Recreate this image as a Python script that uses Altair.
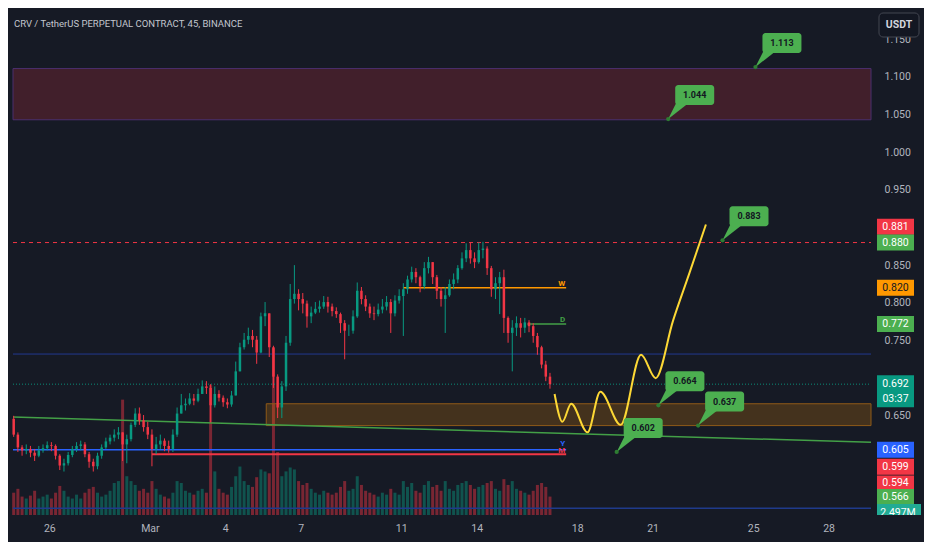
import altair as alt
import pandas as pd

# ----------------------------- data -----------------------------
candle_start = "2024-02-24 12:00"
candle_freq = "4h"
first_open = 0.646

close = [
    0.625, 0.608, 0.604, 0.606, 0.601, 0.597, 0.604, 0.607, 0.611, 0.610,
    0.597, 0.584, 0.587, 0.598, 0.606, 0.610, 0.612, 0.599, 0.589, 0.583,
    0.597, 0.608, 0.616, 0.621, 0.625, 0.628, 0.612, 0.619, 0.638, 0.653,
    0.644, 0.635, 0.625, 0.606, 0.612, 0.617, 0.610, 0.606, 0.625, 0.653,
    0.664, 0.666, 0.673, 0.670, 0.679, 0.689, 0.687, 0.664, 0.679, 0.674,
    0.668, 0.665, 0.677, 0.709, 0.741, 0.751, 0.756, 0.751, 0.734, 0.782,
    0.786, 0.741, 0.702, 0.661, 0.689, 0.747, 0.805, 0.812, 0.805, 0.799,
    0.782, 0.787, 0.792, 0.795, 0.801, 0.795, 0.789, 0.785, 0.773, 0.763,
    0.763, 0.782, 0.816, 0.805, 0.795, 0.786, 0.785, 0.791, 0.795, 0.801,
    0.786, 0.803, 0.809, 0.818, 0.831, 0.841, 0.834, 0.822, 0.846, 0.854,
    0.834, 0.816, 0.805, 0.810, 0.825, 0.831, 0.846, 0.859, 0.870, 0.859,
    0.854, 0.870, 0.872, 0.846, 0.818, 0.826, 0.834, 0.780, 0.760, 0.767,
    0.773, 0.767, 0.774, 0.769, 0.756, 0.741, 0.718, 0.702, 0.692,
]
high = [
    0.650, 0.628, 0.611, 0.612, 0.610, 0.606, 0.610, 0.612, 0.616, 0.615,
    0.612, 0.599, 0.593, 0.602, 0.610, 0.615, 0.617, 0.615, 0.602, 0.593,
    0.601, 0.612, 0.621, 0.625, 0.632, 0.635, 0.628, 0.625, 0.641, 0.660,
    0.661, 0.651, 0.642, 0.632, 0.622, 0.625, 0.620, 0.617, 0.632, 0.661,
    0.679, 0.673, 0.680, 0.679, 0.686, 0.697, 0.696, 0.692, 0.689, 0.684,
    0.677, 0.673, 0.683, 0.722, 0.747, 0.760, 0.767, 0.764, 0.756, 0.787,
    0.801, 0.780, 0.743, 0.705, 0.696, 0.756, 0.825, 0.850, 0.818, 0.813,
    0.803, 0.795, 0.801, 0.803, 0.809, 0.808, 0.799, 0.794, 0.787, 0.777,
    0.771, 0.790, 0.827, 0.821, 0.810, 0.799, 0.795, 0.799, 0.805, 0.809,
    0.805, 0.810, 0.818, 0.826, 0.836, 0.848, 0.846, 0.836, 0.854, 0.861,
    0.854, 0.837, 0.821, 0.821, 0.831, 0.839, 0.850, 0.867, 0.879, 0.880,
    0.867, 0.880, 0.881, 0.875, 0.849, 0.834, 0.841, 0.844, 0.782, 0.777,
    0.782, 0.780, 0.780, 0.777, 0.773, 0.760, 0.743, 0.723, 0.707,
]
low = [
    0.622, 0.602, 0.597, 0.599, 0.595, 0.590, 0.595, 0.601, 0.604, 0.603,
    0.592, 0.578, 0.576, 0.584, 0.595, 0.602, 0.604, 0.595, 0.581, 0.576,
    0.579, 0.593, 0.606, 0.612, 0.616, 0.619, 0.590, 0.587, 0.616, 0.635,
    0.638, 0.629, 0.619, 0.583, 0.599, 0.606, 0.603, 0.601, 0.602, 0.622,
    0.656, 0.657, 0.664, 0.664, 0.668, 0.680, 0.679, 0.641, 0.661, 0.669,
    0.662, 0.660, 0.662, 0.679, 0.720, 0.738, 0.745, 0.741, 0.719, 0.733,
    0.769, 0.728, 0.687, 0.647, 0.647, 0.683, 0.743, 0.799, 0.790, 0.786,
    0.767, 0.773, 0.785, 0.787, 0.792, 0.787, 0.782, 0.780, 0.760, 0.725,
    0.756, 0.759, 0.780, 0.798, 0.789, 0.780, 0.777, 0.782, 0.786, 0.790,
    0.760, 0.782, 0.799, 0.756, 0.812, 0.827, 0.826, 0.814, 0.818, 0.839,
    0.825, 0.805, 0.795, 0.760, 0.808, 0.818, 0.826, 0.844, 0.854, 0.852,
    0.846, 0.852, 0.859, 0.837, 0.808, 0.805, 0.785, 0.760, 0.747, 0.709,
    0.756, 0.754, 0.760, 0.761, 0.747, 0.731, 0.713, 0.696, 0.686,
]
volume_m = [
    4.6, 5.4, 3.8, 3.4, 4.0, 5.0, 3.4, 3.8, 4.2, 3.4,
    4.6, 6.0, 5.0, 3.8, 3.4, 4.2, 3.4, 4.6, 5.4, 5.8,
    4.6, 3.8, 4.2, 5.0, 6.6, 7.0, 23.8, 8.0, 7.0, 6.2,
    5.0, 5.4, 4.6, 7.0, 5.4, 4.2, 3.8, 3.4, 4.6, 7.0,
    6.6, 5.0, 4.6, 4.2, 5.0, 5.4, 4.6, 26.8, 9.0, 5.4,
    4.6, 4.2, 5.8, 8.0, 10.0, 7.0, 6.2, 5.8, 7.8, 9.4,
    9.0, 8.6, 34.4, 13.0, 8.0, 9.0, 9.8, 9.4, 7.0, 6.2,
    6.6, 5.4, 4.6, 4.2, 5.0, 4.6, 4.2, 4.6, 5.8, 7.0,
    5.0, 5.4, 8.0, 6.2, 5.0, 4.6, 4.2, 3.8, 4.6, 4.2,
    5.4, 4.6, 4.2, 7.0, 5.8, 6.6, 5.0, 4.6, 6.2, 7.0,
    5.8, 6.2, 5.0, 7.0, 5.4, 5.0, 6.2, 6.6, 7.0, 6.2,
    5.4, 5.8, 6.2, 6.6, 7.0, 5.4, 5.0, 7.4, 6.2, 7.0,
    5.4, 5.0, 4.6, 4.2, 5.0, 6.2, 6.6, 5.8, 3.8,
]

# projected path (days after 1 Mar, price)
proj_day = [16.10, 16.41, 16.76, 17.41, 17.92, 18.73, 19.54, 20.12, 20.81, 21.47, 22.12]
proj_price = [0.679, 0.642, 0.666, 0.628, 0.682, 0.638, 0.731, 0.700, 0.776, 0.840, 0.904]

# target callouts
callout_day = [24.09, 20.62, 22.78, 20.23, 21.81, 18.57]
callout_price = [1.113, 1.044, 0.883, 0.664, 0.637, 0.602]

# zones
supply_zone = [1.043, 1.111]
demand_zone = [0.637, 0.666]
demand_start_day = 4.63

# trend line
trend_day = [-5.444, 28.687]
trend_price = [0.6483, 0.6148]

# level lines
level_names = ["W", "D", "Y", "M"]
level_price = [0.820, 0.772, 0.605, 0.599]
level_start = [10.08, 15.02, -5.444, 0.08]
level_end = [16.56, 16.56, 16.56, 16.56]
high_line_price = 0.880
blue_line_price = 0.732
last_price = 0.692
bottom_line_price = 0.5273

# axis
x_tick_days = [-4, 0, 3, 6, 10, 13, 17, 20, 24, 27]
x_tick_labels = ["26", "Mar", "4", "7", "11", "14", "18", "21", "25", "28"]
y_ticks = [0.65, 0.75, 0.80, 0.85, 0.95, 1.00, 1.05, 1.10, 1.15]

# price-scale labels
lbl_values = [0.881, 0.880, 0.820, 0.772, 0.605, 0.599, 0.594, 0.566]
lbl_text = ["0.881", "0.880", "0.820", "0.772", "0.605", "0.599", "0.594", "0.566"]
countdown = "03:37"
volume_label = "2.497M"
title_text = "CRV / TetherUS PERPETUAL CONTRACT, 45, BINANCE"
currency = "USDT"

# ----------------------------- style -----------------------------
W, H = 868, 507
RIGHT, BOTTOM = 48, 27
XD = [-5.444, 28.687]
YD = [0.5183, 1.1914]
BG = "#161a25"
UP = "#089981"
DOWN = "#f23645"
TXT = "#b2b5be"
FONT = "Roboto"
CALL = "#4caf50"
lbl_fill = ["#f23645", "#4caf50", "#ff9800", "#4caf50", "#2962ff", "#f23645", "#f23645", "#4caf50"]
lbl_tcolor = ["#ffffff", "#ffffff", "#131722", "#ffffff", "#ffffff", "#ffffff", "#ffffff", "#ffffff"]
lbl_shift_px = [-15, 0, 0, 0, 0, 12.5, 25.5, 18]
level_colors = ["#ff9800", "#43a047", "#2962ff", "#f23645"]
level_dy = [0, 0, -2, 1]

# ----------------------------- build -----------------------------
t = pd.date_range(candle_start, periods=len(close), freq=candle_freq)
half = pd.Timedelta(candle_freq) / pd.Timedelta(days=1) / 2
day = (t - pd.Timestamp("2024-03-01")) / pd.Timedelta(days=1) + half
opens = [first_open] + close[:-1]
candles = pd.DataFrame({"day": day, "open": opens, "close": close,
                        "high": high, "low": low, "vol": volume_m})
candles["high"] = candles[["high", "open", "close"]].max(axis=1)
candles["low"] = candles[["low", "open", "close"]].min(axis=1)
candles["dir"] = ["up" if c >= o else "down" for o, c in zip(candles["open"], candles["close"])]

xs = alt.Scale(domain=XD, nice=False, zero=False)
ys = alt.Scale(domain=YD, nice=False, zero=False)
label_expr = " : ".join(f"datum.value == {d} ? '{l}'" for d, l in zip(x_tick_days, x_tick_labels)) + " : ''"
x_axis = alt.Axis(values=x_tick_days, labelExpr=label_expr, orient="bottom", ticks=False,
                  domain=False, grid=False, labelColor=TXT, labelFontSize=10.5, labelFont=FONT,
                  labelPadding=8, title=None, labelFlush=False, labelOverlap=False)
y_axis = alt.Axis(values=y_ticks, format=".3f", orient="right", ticks=False, domain=False,
                  grid=False, labelColor=TXT, labelFontSize=10.5, labelFont=FONT, labelPadding=8,
                  title=None, labelFlush=False, labelOverlap=False)


def X(f):
    return alt.X(f, type="quantitative", scale=xs, axis=x_axis)


def Y(f):
    return alt.Y(f, type="quantitative", scale=ys, axis=y_axis)


dir_color = alt.Color("dir:N", scale=alt.Scale(domain=["up", "down"], range=[UP, DOWN]), legend=None)

layers = []

# zones
zs = pd.DataFrame({"x0": [XD[0]], "x1": [XD[1]], "p0": [supply_zone[0]], "p1": [supply_zone[1]]})
layers.append(alt.Chart(zs).mark_rect(fill=DOWN, fillOpacity=0.2, stroke="#4b2f6e", strokeWidth=1)
              .encode(x=X("x0"), x2="x1", y=Y("p0"), y2="p1"))
zd = pd.DataFrame({"x0": [demand_start_day], "x1": [XD[1]], "p0": [demand_zone[0]], "p1": [demand_zone[1]]})
layers.append(alt.Chart(zd).mark_rect(fill="#ff9800", fillOpacity=0.2, stroke="#8f5a18", strokeWidth=1)
              .encode(x=X("x0"), x2="x1", y=Y("p0"), y2="p1"))


def hline(p, x0, x1, color, width, dash=None, opacity=1.0):
    df = pd.DataFrame({"x0": [x0], "x1": [x1], "p": [p]})
    kw = dict(color=color, strokeWidth=width, opacity=opacity)
    if dash:
        kw["strokeDash"] = dash
    return alt.Chart(df).mark_rule(**kw).encode(x=X("x0"), x2="x1", y=Y("p"))


layers.append(hline(blue_line_price, XD[0], XD[1], "#22398f", 1))
layers.append(hline(bottom_line_price, XD[0], XD[1], "#1f3a8c", 1.5))
layers.append(hline(high_line_price, XD[0], XD[1], DOWN, 1, [4, 4]))
layers.append(hline(last_price, XD[0], XD[1], UP, 1, [1, 2], 0.9))

# trend line
tr = pd.DataFrame({"day": trend_day, "p": trend_price})
layers.append(alt.Chart(tr).mark_line(color="#43a047", strokeWidth=1.5).encode(x=X("day"), y=Y("p")))

# level lines + letters
for name, p, a, b, c, dy in zip(level_names, level_price, level_start, level_end, level_colors, level_dy):
    layers.append(hline(p, a, b, c, 2 if name == "M" else 1.5))
    one = pd.DataFrame({"day": [b], "p": [p], "name": [name]})
    layers.append(alt.Chart(one).mark_text(align="right", baseline="bottom", dx=-1, dy=dy, fontSize=8,
                                           font=FONT, fontWeight="bold", color=c)
                  .encode(x=X("day"), y=Y("p"), text="name:N"))

# candles
layers.append(alt.Chart(candles).mark_rule(strokeWidth=1, clip=True)
              .encode(x=X("day"), y=Y("low"), y2="high", color=dir_color))
layers.append(alt.Chart(candles).mark_bar(size=2.5, clip=True)
              .encode(x=X("day"), y=Y("open"), y2="close", color=dir_color))

# projection
pr = pd.DataFrame({"day": proj_day, "p": proj_price})
layers.append(alt.Chart(pr).mark_line(interpolate="monotone", color="#fdd835", strokeWidth=2)
              .encode(x=X("day"), y=Y("p")))

# callouts
cd = pd.DataFrame({"day": callout_day, "p": callout_price,
                   "label": [f"{v:.3f}" for v in callout_price]})
layers.append(alt.Chart(cd).mark_point(shape="M0,0L0.9,-1.8L2.3,-1.8Z", size=400, filled=True,
                                       fill=CALL, strokeWidth=0, opacity=1)
              .encode(x=X("day"), y=Y("p")))
layers.append(alt.Chart(cd).mark_rect(xOffset=7, x2Offset=46, yOffset=-34, y2Offset=-14,
                                      cornerRadius=3, color=CALL)
              .encode(x=X("day"), x2="day", y=Y("p"), y2="p"))
layers.append(alt.Chart(cd).mark_text(dx=26.5, dy=-24, fontSize=9, font=FONT, fontWeight="bold",
                                      color="#131722")
              .encode(x=X("day"), y=Y("p"), text="label:N"))
layers.append(alt.Chart(cd).mark_circle(size=18, color="#2e7d32", opacity=1)
              .encode(x=X("day"), y=Y("p")))

# price-scale labels
ppx = (YD[1] - YD[0]) / H
ld = pd.DataFrame({"disp": [v - s * ppx for v, s in zip(lbl_values, lbl_shift_px)],
                   "text": lbl_text, "fill": lbl_fill, "tc": lbl_tcolor})
layers.append(alt.Chart(ld).mark_rect(yOffset=-8, y2Offset=8)
              .encode(x=alt.value(W + 1), x2=alt.value(W + 38), y=Y("disp"), y2="disp",
                      color=alt.Color("fill:N", scale=None)))
layers.append(alt.Chart(ld).mark_text(fontSize=10.5, font=FONT)
              .encode(x=alt.value(W + 19.5), y=Y("disp"), text="text:N",
                      color=alt.Color("tc:N", scale=None)))
cp = pd.DataFrame({"p": [last_price], "t1": [f"{last_price:.3f}"], "t2": [countdown]})
layers.append(alt.Chart(cp).mark_rect(yOffset=-9, y2Offset=23, color=UP)
              .encode(x=alt.value(W + 1), x2=alt.value(W + 38), y=Y("p"), y2="p"))
layers.append(alt.Chart(cp).mark_text(fontSize=10.5, font=FONT, color="#ffffff")
              .encode(x=alt.value(W + 19.5), y=Y("p"), text="t1:N"))
layers.append(alt.Chart(cp).mark_text(fontSize=10.5, font=FONT, color="#ffffff", dy=15)
              .encode(x=alt.value(W + 19.5), y=Y("p"), text="t2:N"))

# volume label (lower half hidden by the time-scale strip)
vl = pd.DataFrame({"t": [volume_label]})
layers.append(alt.Chart(vl).mark_rect(color="#22ab94")
              .encode(x=alt.value(W + 1), x2=alt.value(W + 45), y=alt.value(H - 11), y2=alt.value(H + 6)))
layers.append(alt.Chart(vl).mark_text(fontSize=10.5, font=FONT, color="#ffffff")
              .encode(x=alt.value(W + 22), y=alt.value(H - 2), text="t:N"))
layers.append(alt.Chart(vl).mark_rect(color=BG)
              .encode(x=alt.value(W), x2=alt.value(W + RIGHT), y=alt.value(H), y2=alt.value(H + BOTTOM)))

# currency button + title
cu = pd.DataFrame({"t": [currency]})
layers.append(alt.Chart(cu).mark_rect(fill="#131722", stroke="#434651", strokeWidth=1, cornerRadius=4)
              .encode(x=alt.value(W + 3), x2=alt.value(W + 43), y=alt.value(5), y2=alt.value(29)))
layers.append(alt.Chart(cu).mark_text(fontSize=10.5, font=FONT, color="#d1d4dc", fontWeight="bold")
              .encode(x=alt.value(W + 23), y=alt.value(17), text="t:N"))
ti = pd.DataFrame({"t": [title_text]})
layers.append(alt.Chart(ti).mark_text(align="left", baseline="middle", fontSize=9.5,
                                      font=FONT, color="#c3c6ce")
              .encode(x=alt.value(6), y=alt.value(16), text="t:N"))

# volume (own scale)
vol = alt.Chart(candles).mark_bar(size=3, clip=True, opacity=0.45).encode(
    x=X("day"),
    y=alt.Y("vol:Q", scale=alt.Scale(domain=[0, 104.6]), axis=None),
    color=dir_color,
)

chart = alt.layer(vol, alt.layer(*layers)).resolve_scale(y="independent").properties(
    width=W, height=H,
    padding={"left": 0, "top": 0, "right": RIGHT, "bottom": BOTTOM},
    autosize=alt.AutoSizeParams(type="none"),
    background=BG,
).configure_view(stroke=None)

chart.save("out.html", embed_options={"renderer": "svg", "actions": False})
